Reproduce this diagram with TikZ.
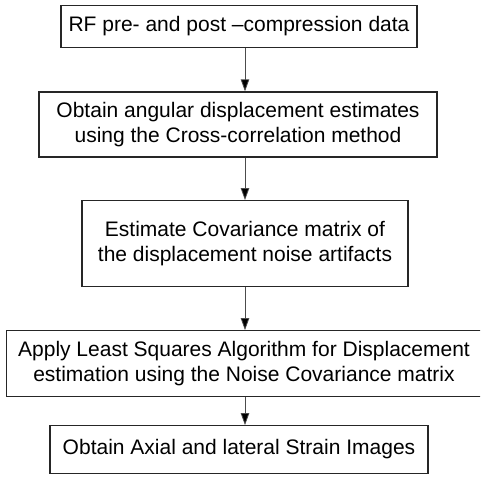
\documentclass[tikz,border=0pt]{standalone}
\usepackage{fontspec}
\setmainfont{Liberation Sans}
\usetikzlibrary{arrows.meta}
\begin{document}
\begin{tikzpicture}[x=1pt,y=-1pt,
  stepbox/.style={draw=black!85,line width=1.3pt,inner sep=0pt,align=center,
    font=\fontsize{21}{25}\selectfont},
  conn/.style={draw=black!70,line width=0.8pt,-{Triangle[length=12pt,width=8.5pt,fill=black]}}]
\useasboundingbox (0,0) rectangle (480,485);
\clip (0,0) rectangle (480,485);
\node[stepbox,minimum width=356pt,minimum height=42pt] (b1) at (239,26.5) {RF pre- and post --compression data};
\node[stepbox,minimum width=398pt,minimum height=65pt] (b2) at (238,124.5) {Obtain angular displacement estimates\\using the Cross-correlation method};
\node[stepbox,minimum width=326pt,minimum height=86pt] (b3) at (245,243.7) {Estimate Covariance matrix of\\the displacement noise artifacts};
\node[stepbox,minimum width=475pt,minimum height=65.5pt] (b4) at (244,363.5) {Apply Least Squares Algorithm for Displacement\\estimation using the Noise Covariance matrix};
\node[stepbox,minimum width=378pt,minimum height=47.5pt] (b5) at (239,449.5) {Obtain Axial and lateral Strain Images};
\draw[conn] (b1.south -| 245,0) -- (b2.north -| 245,0);
\draw[conn] (b2.south -| 245,0) -- (b3.north -| 245,0);
\draw[conn] (b3.south -| 245,0) -- (b4.north -| 245,0);
\draw[conn] (b4.south -| 245,0) -- (b5.north -| 245,0);
\end{tikzpicture}
\end{document}
